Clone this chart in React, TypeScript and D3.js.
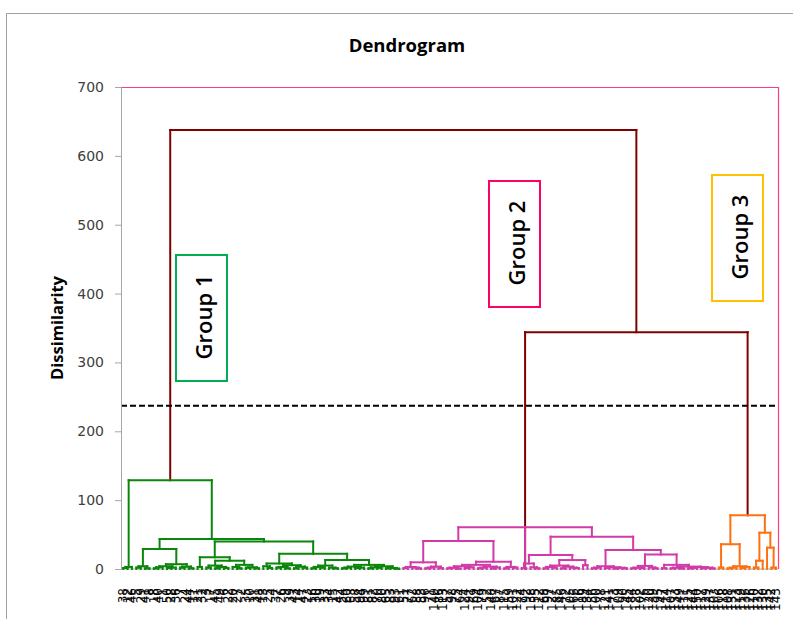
import React, { useEffect, useMemo, useRef } from "react";
import * as d3 from "d3";

// ---------------- DATA ----------------
const TITLE = "Dendrogram";
const Y_LABEL = "Dissimilarity";
const Y_TICKS = [0, 100, 200, 300, 400, 500, 600, 700];
const Y_MAX = 700;
const CUT_LEVEL = 237;
const GROUP_NAMES = ["Group 1", "Group 2", "Group 3"];

// leaf labels in dendrogram order (left to right)
const LEAF_LABELS_G1 = [
  38, 12, 46, 5, 29, 41, 8, 18, 40, 1, 50, 28, 36, 7, 24, 44, 11, 21, 32, 3,
  17, 45, 49, 6, 22, 20, 27, 2, 35, 10, 31, 48, 13, 25, 4, 37, 26, 9, 39, 43,
  14, 47, 23, 16, 30, 19, 33, 34, 15, 42, 54, 60, 63, 58, 94, 99, 81, 82, 70, 80,
  65, 83, 93, 61,
];
const LEAF_LABELS_G2 = [
  51, 77, 62, 88, 53, 96, 71, 140, 86, 113, 57, 98, 75, 64, 124, 91, 69, 104, 79, 52,
  148, 67, 87, 115, 59, 101, 122, 74, 92, 138, 55, 112, 68, 97, 127, 85, 146, 72, 105, 66,
  116, 89, 134, 56, 100, 78, 121, 141, 73, 109, 90, 145, 84, 128, 102, 76, 120, 139, 95, 147,
  114, 107, 133, 149, 111, 125, 144, 150, 117, 129, 137, 103,
];
const LEAF_LABELS_G3 = [106, 118, 108, 131, 123, 119, 136, 126, 110, 132, 130, 135, 142, 143];

// cluster structure: "*" = next leaf, "(a,b)h" = merge at dissimilarity h
const GROUP1_TREE =
  "(((*,*)1.5,*)3,((((*,*)2,(*,*)1)4,((((*,*)1,*)2.5,((*,*)1.5,*)2)4,((*,*)2,(*,*)1)3.5)7)29," +
  "(((*,*)3,(((*,*)2,((*,*)1,(*,*)1.5)3)5,((*,(*,*)1)3,((*,*)2,(*,*)1)2.5)6)12)17," +
  "(((*,(*,*)1.5)4,(((*,*)2,(*,*)1)3,((*,*)1,(*,*)2)3.5)5.5)8," +
  "((((*,*)1,(*,*)2)3,(*,(*,*)1)2)5,((((*,*)1,*)2,((*,*)1.5,*)2)3.5,(((*,*)1,(*,*)2)2.5,((*,*)1,(*,*)0.5)1.5)4)6)13)22)40)43.5)129";
const GROUP2_TREE =
  "((((((*,*)1.5,(*,(*,*)0.8)2)3,(((*,*)1,*)2,(*,*)1.2)3.5)9.7," +
  "(((((*,*)1,(*,*)0.6)2,((*,*)1.5,*)2.5)4,(((*,*)1,*)2,((*,*)0.8,*)2.2)3.5)6,((*,*)1,(*,*)2)3)10.6)40.7," +
  "((((*,*)1.5,(*,(*,*)1)2.5)8,((((*,*)1,(*,*)2)3,((*,*)1,(*,(*,*)1.5)2)3.5)5,(*,*)5.5)13)20.5," +
  "((((*,*)1,*)2,((*,*)1.5,((*,*)0.7,(*,*)1)1.8)2.5)4,((((*,*)1,(*,*)1.3)2,(*,(*,*)1)2.2)4.5," +
  "((*,*)1.2,(((*,*)1,(*,*)0.8)2,(((*,*)1,*)1.6,((*,*)1.2,(*,*)0.9)2)2.8)3.5)6)21)27.5)47)60.5)";
const GROUP3_TREE = "(((*,*)2,(((*,*)1,*)2,((*,*)1.5,*)3)4)36,(((*,*)2,*)12,(*,(*,*)2)31)52.7)78";
// merges joining the groups: Group 2 with Group 3, then Group 1 with both
const TOP_MERGE_HEIGHTS = [344, 637.5];

// ---------------- TREE PARSING ----------------
type TNode = { children?: TNode[]; height: number; leaf?: number; group: number };

function parseTree(s: string, group: number, counter: { i: number }): TNode {
  let pos = 0;
  const node = (): TNode => {
    if (s[pos] === "*") {
      pos++;
      return { height: 0, leaf: counter.i++, group };
    }
    pos++; // "("
    const kids: TNode[] = [node()];
    while (s[pos] === ",") {
      pos++;
      kids.push(node());
    }
    pos++; // ")"
    const m = /^[0-9.]+/.exec(s.slice(pos));
    let h = 0;
    if (m) {
      h = parseFloat(m[0]);
      pos += m[0].length;
    }
    return { children: kids, height: h, group };
  };
  return node();
}

const COLORS = ["#0A870A", "#D23AA8", "#FF7010"];
const TOP_COLOR = "#7F0000";

export default function App() {
  const W = 793;
  const H = 619;
  const plot = { left: 121, right: 778, top: 87, bottom: 569 };
  const LEAF_LABELS = [...LEAF_LABELS_G1, ...LEAF_LABELS_G2, ...LEAF_LABELS_G3];

  const y = d3.scaleLinear().domain([0, Y_MAX]).range([plot.bottom, plot.top]);
  const x = d3
    .scaleBand<number>()
    .domain(LEAF_LABELS.map((_, i) => i))
    .range([plot.left, plot.right]);
  const bw = x.bandwidth();

  const root = useMemo(() => {
    const counter = { i: 0 };
    const g1 = parseTree(GROUP1_TREE, 0, counter);
    const g2 = parseTree(GROUP2_TREE, 1, counter);
    const g3 = parseTree(GROUP3_TREE, 2, counter);
    const top: TNode = {
      children: [g1, { children: [g2, g3], height: TOP_MERGE_HEIGHTS[0], group: -1 }],
      height: TOP_MERGE_HEIGHTS[1],
      group: -1,
    };
    const h = d3.hierarchy<TNode>(top, (d) => d.children);
    h.eachAfter((n: any) => {
      if (!n.children) n.px = (x(n.data.leaf) as number) + bw / 2;
      else n.px = (n.children[0].px + n.children[n.children.length - 1].px) / 2;
    });
    return h;
  }, []);

  const nodes: any[] = root.descendants();
  const leaves: any[] = root.leaves();

  const axisRef = useRef<SVGGElement>(null);
  useEffect(() => {
    if (!axisRef.current) return;
    const g = d3.select(axisRef.current);
    g.call(d3.axisLeft(y).tickValues(Y_TICKS).tickSize(6).tickPadding(11) as any);
    g.select(".domain").attr("stroke", "#A6A6A6").attr("stroke-width", 1);
    g.selectAll(".tick line").attr("stroke", "#A6A6A6");
    g.selectAll(".tick text")
      .attr("font-family", "'DejaVu Sans', sans-serif")
      .attr("font-size", 14)
      .attr("fill", "#404040");
  }, []);

  const colorOf = (grp: number) => (grp < 0 ? TOP_COLOR : COLORS[grp]);

  const boxes = [
    { x: 176, y: 255, w: 51, h: 126, stroke: "#00B050" },
    { x: 489, y: 181, w: 51, h: 126, stroke: "#FF0066" },
    { x: 712, y: 175, w: 51, h: 126, stroke: "#FFC000" },
  ];

  return (
    <svg
      width={W}
      height={H}
      style={{ position: "absolute", left: 0, top: 0, background: "#fff", display: "block" }}
    >
      <rect x={0} y={0} width={W} height={H} fill="#fff" />
      {/* outer chart frame */}
      <path d={`M6.5,${H} V13.5 H${W}`} fill="none" stroke="#A0A0A0" strokeWidth={1} />
      {/* title */}
      <text
        x={407}
        y={52}
        textAnchor="middle"
        fontFamily="'Open Sans', sans-serif"
        fontWeight="bold"
        fontSize={18.5}
        fill="#000"
      >
        {TITLE}
      </text>
      {/* y axis title */}
      <text
        transform={`translate(63,${(plot.top + plot.bottom) / 2 - 0}) rotate(-90)`}
        textAnchor="middle"
        fontFamily="'Open Sans', sans-serif"
        fontWeight="bold"
        fontSize={16.5}
        fill="#000"
      >
        {Y_LABEL}
      </text>

      {/* plot border (top & right) */}
      <path
        d={`M${plot.left},${plot.top + 0.5} H${plot.right + 0.5} V${plot.bottom}`}
        fill="none"
        stroke="#FF3D7F"
        strokeWidth={1.2}
      />
      {/* x axis baseline */}
      <line x1={plot.left} x2={plot.right} y1={plot.bottom} y2={plot.bottom} stroke="#A6A6A6" />

      {/* dendrogram links */}
      <g fill="none" strokeWidth={2} strokeLinecap="square">
        {nodes
          .filter((n) => n.parent)
          .map((n, i) => (
            <line
              key={"v" + i}
              x1={n.px}
              x2={n.px}
              y1={y(n.data.height)}
              y2={y(n.parent.data.height)}
              stroke={colorOf(n.parent.data.group)}
            />
          ))}
        {nodes
          .filter((n) => n.children)
          .map((n, i) => (
            <line
              key={"h" + i}
              x1={n.children[0].px}
              x2={n.children[n.children.length - 1].px}
              y1={y(n.data.height)}
              y2={y(n.data.height)}
              stroke={colorOf(n.data.group)}
            />
          ))}
      </g>

      {/* cut level */}
      <line
        x1={plot.left}
        x2={plot.right}
        y1={y(CUT_LEVEL)}
        y2={y(CUT_LEVEL)}
        stroke="#000"
        strokeWidth={2}
        strokeDasharray="6,3"
      />

      <g ref={axisRef} transform={`translate(${plot.left},0)`} />

      {/* leaf labels */}
      <g fontFamily="'DejaVu Sans', sans-serif" fontSize={12} fill="#000">
        {leaves.map((n, i) => (
          <text
            key={"l" + i}
            transform={`translate(${n.px},588) rotate(-90)`}
            textAnchor="end"
            dominantBaseline="central"
          >
            {LEAF_LABELS[n.data.leaf]}
          </text>
        ))}
      </g>

      {/* group boxes */}
      {boxes.map((b, i) => (
        <g key={"b" + i}>
          <rect x={b.x} y={b.y} width={b.w} height={b.h} fill="#fff" stroke={b.stroke} strokeWidth={2} />
          <text
            transform={`translate(${b.x + b.w / 2 + 1},${b.y + b.h / 2 - 1}) rotate(-90)`}
            textAnchor="middle"
            dominantBaseline="central"
            fontFamily="'Open Sans', sans-serif"
            fontWeight={600}
            fontSize={22}
            fill="#000"
          >
            {GROUP_NAMES[i]}
          </text>
        </g>
      ))}
    </svg>
  );
}
